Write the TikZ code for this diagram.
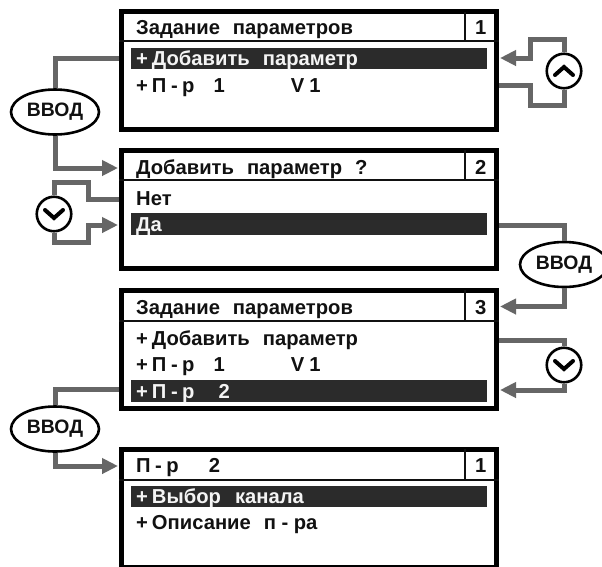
\documentclass[tikz,border=0pt]{standalone}
\usepackage{fontspec}
\setmainfont{Liberation Sans}[BoldFont={Liberation Sans Bold}]
\usetikzlibrary{shapes.geometric,arrows.meta}
\definecolor{connc}{HTML}{666666}
\definecolor{barc}{HTML}{2B2B2B}
\definecolor{inkc}{HTML}{111111}
\definecolor{paperc}{HTML}{F4F4F4}
\tikzset{
  screen/.style={draw=black,line width=5pt,rectangle,minimum width=375pt,minimum height=118pt,inner sep=0pt},
  rule/.style={draw=inkc,line width=2pt},
  bar/.style={fill=barc,draw=none,rectangle,minimum width=356pt,minimum height=21.5pt,inner sep=0pt},
  label/.style={anchor=base west,inner sep=0pt,text=inkc,font=\fontsize{20.2}{22}\selectfont\bfseries},
  lit/.style={label,text=paperc},
  enter/.style={draw=black,fill=white,line width=2.6pt,ellipse,minimum width=88pt,minimum height=45pt,inner sep=0pt,text=inkc,font=\fontsize{19.4}{22}\selectfont\bfseries},
  knob/.style={draw=black,fill=white,line width=2.6pt,circle,minimum size=34.5pt,inner sep=0pt},
  chev/.style={draw=black,line width=4pt,line cap=round,line join=miter},
  conn/.style={draw=connc,line width=5pt,line join=miter},
  arr/.style={conn,-{Triangle[width=15pt,length=16pt]},shorten >=1pt},
}
\newcommand{\gapsp}[1]{\hspace{#1pt}}
\begin{document}
\begin{tikzpicture}[x=1pt,y=-1pt]
\useasboundingbox (0,0) rectangle (602,566);
\fill[white] (0,0) rectangle (602,566);
% screens
\node[screen] (b1) at (309,70.5) {};
\node[screen] (b2) at (309,209) {};
\node[screen] (b3) at (309,349) {};
\node[screen] (b4) at (309,508) {};
% header rules
\draw[rule] (b1.west|-0,41) -- (b1.east|-0,41);
\draw[rule] (465,12) -- (465,41);
\draw[rule] (b2.west|-0,180) -- (b2.east|-0,180);
\draw[rule] (465,150) -- (465,180);
\draw[rule] (b3.west|-0,320.5) -- (b3.east|-0,320.5);
\draw[rule] (465,290) -- (465,320.5);
\draw[rule] (b4.west|-0,479.5) -- (b4.east|-0,479.5);
\draw[rule] (465,449) -- (465,479.5);
% highlight bars
\node[bar] (h1) at (308.5,58.5) {};
\node[bar] (h2) at (308.5,224) {};
\node[bar] (h3) at (308.5,391) {};
\node[bar] (h4) at (308.5,496.5) {};
% screen 1
\node[label] (t1) at (136,34) {Задание\gapsp{13}параметров};
\node[label] (n1) at (475,34) {1};
\node[lit] (r11) at (136,65.5) {+\gapsp{4}Добавить\gapsp{13}параметр};
\node[label] (r12) at (136,92) {+\gapsp{4}П\gapsp{4.5}-\gapsp{4.5}р\gapsp{19}1\gapsp{66}V\gapsp{5}1};
% screen 2
\node[label] (t2) at (136,174) {Добавить\gapsp{13}параметр\gapsp{13}?};
\node[label] (n2) at (475,174) {2};
\node[label] (r21) at (136,205) {Нет};
\node[lit] (r22) at (136,231.5) {Да};
% screen 3
\node[label] (t3) at (136,314.5) {Задание\gapsp{13}параметров};
\node[label] (n3) at (475,314.5) {3};
\node[label] (r31) at (136,345) {+\gapsp{4}Добавить\gapsp{13}параметр};
\node[label] (r32) at (136,371) {+\gapsp{4}П\gapsp{4.5}-\gapsp{4.5}р\gapsp{19}1\gapsp{66}V\gapsp{5}1};
\node[lit] (r33) at (136,398) {+\gapsp{4}П\gapsp{4.5}-\gapsp{4.5}р\gapsp{24}2};
% screen 4
\node[label] (t4) at (136,472.5) {П\gapsp{4.5}-\gapsp{4.5}р\gapsp{30}2};
\node[label] (n4) at (475,472.5) {1};
\node[lit] (r41) at (136,503) {+\gapsp{4}Выбор\gapsp{14}канала};
\node[label] (r42) at (136,529) {+\gapsp{4}Описание\gapsp{13}п\gapsp{5.5}-\gapsp{5.5}ра};
% enter ellipses
\node[enter] (e1) at (55,112) {ВВОД};
\node[enter] (e2) at (564,264.5) {ВВОД};
\node[enter] (e3) at (55,429) {ВВОД};
% knobs
\node[knob] (k1) at (54,214) {};
\node[knob] (k2) at (564,71) {};
\node[knob] (k3) at (564,365) {};
\draw[chev] (45,210) -- (54,218) -- (63,210);
\draw[chev] (555,75) -- (564,67) -- (573,75);
\draw[chev] (555,361) -- (564,369) -- (573,361);
% connectors
\draw[conn] (b1.west|-h1) -| (e1);
\draw[arr] (e1) |- (b2.west|-0,168);
\draw[conn] (b2.west|-0,199) -- (88,199) -- (88,182) -| (k1);
\draw[arr] (k1) |- (88,242) -- (88,225) -- (b2.west|-0,225);
\draw[arr] (k2) |- (530,39) -- (530,58) -- (b1.east|-0,58);
\draw[conn] (b1.east|-0,85) -- (530,85) -- (530,105) -| (k2);
\draw[conn] (b2.east|-0,225) -| (e2);
\draw[arr] (e2) |- (b3.east|-0,306.5);
\draw[conn] (b3.east|-0,340) -| (k3);
\draw[arr] (k3) |- (b3.east|-0,390);
\draw[conn] (b3.west|-0,389) -| (e3);
\draw[arr] (e3) |- (b4.west|-0,466);
\end{tikzpicture}
\end{document}
